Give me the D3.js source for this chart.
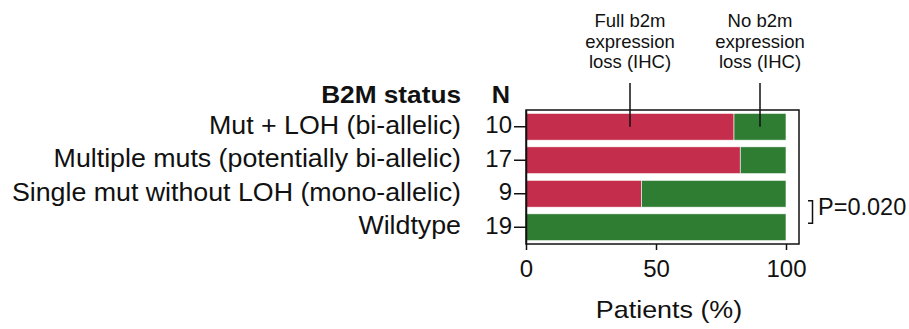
<!DOCTYPE html>
<html>
<head>
<meta charset="utf-8">
<script src="https://cdn.jsdelivr.net/npm/d3@7"></script>
<style>
  html, body { margin: 0; padding: 0; background: #fff; }
  svg { display: block; }
  text { font-family: "Liberation Sans", Arial, Helvetica, sans-serif; fill: #111; }
</style>
</head>
<body>
<svg id="chart" width="909" height="329"></svg>
<script>
// B2M status groups and patient counts
const categories = [
  "Mut + LOH (bi-allelic)",
  "Multiple muts (potentially bi-allelic)",
  "Single mut without LOH (mono-allelic)",
  "Wildtype"
];
const nPatients = [10, 17, 9, 19];

// Percent of patients per IHC outcome
const fullLoss = [80, 82.4, 44.4, 0];
const noLoss = [20, 17.6, 55.6, 100];

const xTicks = [0, 50, 100];
const seriesKeys = ["full", "none"];
const seriesColors = { full: "#c42d4b", none: "#2e7d33" };
const annotations = [
  { key: "full", lines: ["Full b2m", "expression", "loss (IHC)"] },
  { key: "none", lines: ["No b2m", "expression", "loss (IHC)"] }
];
const pValueText = "P=0.020";

const rows = categories.map((c, i) => ({
  cat: c, n: nPatients[i], full: fullLoss[i], none: noLoss[i]
}));

const svg = d3.select("#chart");

const x = d3.scaleLinear().domain([0, 105]).range([526, 799]);
const y = d3.scaleBand().domain(categories).range([110, 244])
  .paddingInner(0.2).paddingOuter(0.1);

const stacked = d3.stack().keys(seriesKeys)(rows);

// text helper with a slightly widened face
function wideText(sel, px, py, sx) {
  return sel.attr("x", 0).attr("y", 0)
    .attr("transform", `translate(${px},${py}) scale(${sx},1)`);
}

// stacked bars
svg.append("g").selectAll("g")
  .data(stacked)
  .join("g")
  .attr("fill", d => seriesColors[d.key])
  .selectAll("rect")
  .data(d => d)
  .join("rect")
  .attr("x", d => x(d[0]))
  .attr("y", d => y(d.data.cat))
  .attr("width", d => Math.max(0, x(d[1]) - x(d[0])))
  .attr("height", y.bandwidth())
  .attr("stroke", "#fff")
  .attr("stroke-width", 0.6);

// plot frame
svg.append("rect")
  .attr("x", x(0)).attr("y", 110)
  .attr("width", x(105) - x(0)).attr("height", 244 - 110)
  .attr("fill", "none").attr("stroke", "#111").attr("stroke-width", 1.5);

// y axis: N per group
const yAxis = svg.append("g")
  .attr("transform", `translate(${x(0)},0)`)
  .call(d3.axisLeft(y).tickSize(12).tickSizeOuter(0).tickPadding(2)
    .tickFormat((d, i) => nPatients[i]));
yAxis.select(".domain").attr("stroke", "#111").attr("stroke-width", 1.5);
yAxis.selectAll(".tick line").attr("stroke", "#111").attr("stroke-width", 1.5);
yAxis.selectAll(".tick text")
  .attr("font-size", 24).attr("font-family", null).attr("fill", "#111")
  .attr("dy", "0.27em");

// group names
svg.append("g").selectAll("text")
  .data(rows)
  .join("text")
  .call(s => s.each(function (d) {
    wideText(d3.select(this), 461, y(d.cat) + y.bandwidth() / 2, 1.05);
  }))
  .attr("dy", "0.27em")
  .attr("text-anchor", "end")
  .attr("font-size", 25.5)
  .text(d => d.cat);

// column headers
wideText(svg.append("text"), 461, 102.5, 1.14)
  .attr("text-anchor", "end").attr("font-size", 23).attr("font-weight", "bold")
  .text("B2M status");
wideText(svg.append("text"), 510, 102.5, 1.1)
  .attr("text-anchor", "end").attr("font-size", 23).attr("font-weight", "bold")
  .text("N");

// x axis
const xAxis = svg.append("g")
  .attr("transform", "translate(0,244)")
  .call(d3.axisBottom(x).tickValues(xTicks).tickSize(6).tickSizeOuter(0).tickPadding(10));
xAxis.select(".domain").remove();
xAxis.selectAll(".tick line").attr("stroke", "#111").attr("stroke-width", 1.5);
xAxis.selectAll(".tick text")
  .attr("font-size", 24).attr("font-family", null).attr("fill", "#111");

wideText(svg.append("text"), 669, 318, 1.12)
  .attr("text-anchor", "middle").attr("font-size", 24)
  .text("Patients (%)");

// callouts pointing into the first bar
const first = rows[0];
const firstStack = { full: stacked[0][0], none: stacked[1][0] };
const ann = svg.append("g");
annotations.forEach(a => {
  const seg = firstStack[a.key];
  const cx = x((seg[0] + seg[1]) / 2);
  const g = ann.append("g");
  g.selectAll("text")
    .data(a.lines)
    .join("text")
    .attr("x", cx)
    .attr("y", (d, i) => 27 + i * 20.7)
    .attr("text-anchor", "middle")
    .attr("font-size", 18.5)
    .text(d => d);
  g.append("line")
    .attr("x1", cx).attr("x2", cx)
    .attr("y1", 83).attr("y2", y(first.cat) + y.bandwidth() / 2)
    .attr("stroke", "#111").attr("stroke-width", 1.5);
});

// comparison bracket between the last two groups
const yA = y(categories[2]) + y.bandwidth() / 2 + 7;
const yB = y(categories[3]) + y.bandwidth() / 2 - 4;
svg.append("path")
  .attr("d", `M808,${yA}H812.5V${yB}H808`)
  .attr("fill", "none").attr("stroke", "#111").attr("stroke-width", 1.5);
svg.append("text")
  .attr("x", 818).attr("y", 215)
  .attr("font-size", 23.5)
  .text(pValueText);
</script>
</body>
</html>
